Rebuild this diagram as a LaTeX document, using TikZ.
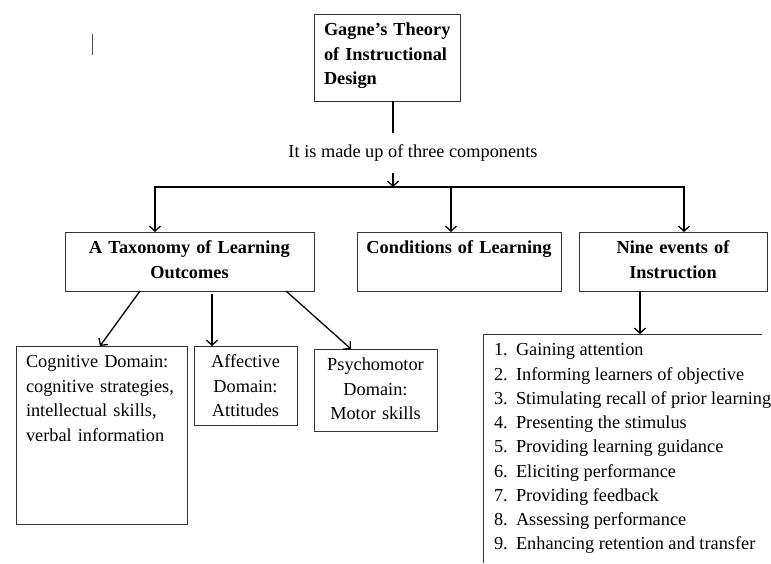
\documentclass[tikz,border=0pt]{standalone}
\usepackage{fontspec}
\setmainfont{Liberation Serif}
\usetikzlibrary{arrows.meta}

\begin{document}
\begin{tikzpicture}[
    x=1pt, y=-1pt,
    font=\fontsize{18.3}{24.7}\selectfont,
    >={Straight Barb[length=5pt,width=11pt]},
    every node/.style={outer sep=0pt},
    box/.style={draw=black!80, line width=0.9pt, anchor=north west, inner xsep=10pt, inner ysep=6pt, text height=15.5pt},
    head/.style={box, inner xsep=5pt, font=\fontsize{18.3}{24.7}\selectfont\bfseries},
    stem/.style={draw, line width=1.3pt},
    link/.style={stem, ->}
]
    \useasboundingbox (0,0) rectangle (771,563);
    \clip (0,0) rectangle (771,563);

    % stray cursor mark
    \draw[line width=1pt, black!70] (92,34) -- (92,55);

    % top of the tree
    \node[head, inner xsep=10pt, text width=126pt, align=left, text depth=59.5pt] (theory) at (314,14) {\mbox{Gagne’s Theory}\\\mbox{of Instructional}\\Design};
    \node[anchor=base, text height=12pt, text depth=4pt, inner ysep=12pt] (made) at (413,157) {It is made up of three components};
    \coordinate (hub) at (393,187);
    \coordinate (busL) at (155,187);
    \coordinate (busM) at (451,187);
    \coordinate (busR) at (684,187);

    % three components
    \node[head, text width=239pt, align=center, text depth=31.5pt] (tax) at (65,232) {A Taxonomy of Learning\\Outcomes};
    \node[head, text width=194pt, align=center, text depth=31.5pt] (cond) at (357,232) {\mbox{Conditions of Learning}};
    \node[head, text width=178pt, align=center, text depth=31.5pt] (nine) at (579,232) {Nine events of\\Instruction};

    % learning outcomes
    \node[box, text width=151pt, align=left, text depth=150.5pt] (cog) at (16,346) {Cognitive Domain:\\cognitive strategies,\\intellectual skills,\\verbal information};
    \node[box, text width=83pt, align=center, text depth=51.5pt] (aff) at (194,346) {Affective\\Domain:\\Attitudes};
    \node[box, text width=103pt, align=center, text depth=54.5pt] (psy) at (314,349) {Psychomotor\\Domain:\\Motor skills};

    % nine events
    \node[anchor=north west, inner xsep=11pt, inner ysep=5pt, font=\fontsize{18.3}{24.25}\selectfont] (events) at (483,334) {%
        \begin{tabular}{@{}l@{\hspace{8.3pt}}l@{}}
        1. & Gaining attention\\
        2. & Informing learners of objective\\
        3. & Stimulating recall of prior learning\\
        4. & Presenting the stimulus\\
        5. & Providing learning guidance\\
        6. & Eliciting performance\\
        7. & Providing feedback\\
        8. & Assessing performance\\
        9. & Enhancing retention and transfer
        \end{tabular}};
    \draw[draw=black!80, line width=0.9pt] ([xshift=279pt]events.north west) -- (events.north west) -- ++(0,229);

    % connectors
    \draw[stem] (theory.south -| hub) -- (made.north -| hub);
    \draw[link] (made.south -| hub) -- (hub);
    \draw[link, <->] (tax.north -| busL) -- (busL) -- (busR) -- (nine.north -| busR);
    \draw[link] (busM) -- (cond.north -| busM);
    \draw[link] ([xshift=75pt]tax.south west) -- ([xshift=84pt]cog.north west);
    \draw[link] ([xshift=147pt,yshift=-3pt]tax.south west) -- ([xshift=18pt]aff.north west);
    \draw[link] ([xshift=221pt]tax.south west) -- ([xshift=37pt]psy.north west);
    \draw[link] ([xshift=61pt]nine.south west) -- ([xshift=61pt]nine.south west |- events.north west);
\end{tikzpicture}
\end{document}
